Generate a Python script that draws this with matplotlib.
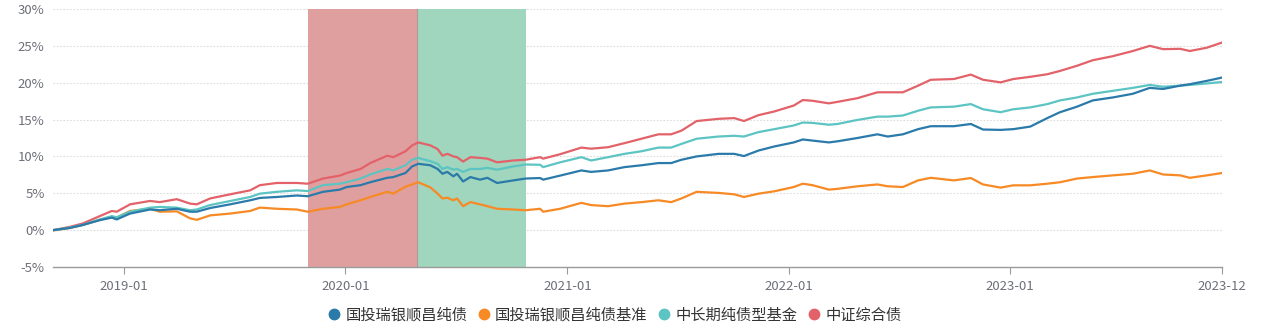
import matplotlib
matplotlib.use("Agg")
import matplotlib.pyplot as plt
from matplotlib.lines import Line2D
import pandas as pd

plt.rcParams['font.family'] = ['Noto Sans CJK SC', 'DejaVu Sans']

dates = ["2018-09-06", "2018-10-04", "2018-10-25", "2018-11-22", "2018-12-12", "2018-12-20",
         "2019-01-11", "2019-02-13", "2019-03-01", "2019-03-29", "2019-04-20", "2019-05-01",
         "2019-05-23", "2019-06-25", "2019-07-28", "2019-08-13", "2019-09-10", "2019-10-13",
         "2019-10-31", "2019-11-25", "2019-12-23", "2020-01-03", "2020-01-26", "2020-02-11",
         "2020-03-10", "2020-03-20", "2020-04-09", "2020-04-20", "2020-04-30", "2020-05-20",
         "2020-06-01", "2020-06-09", "2020-06-17", "2020-06-27", "2020-07-03", "2020-07-13",
         "2020-07-25", "2020-08-10", "2020-08-22", "2020-09-07", "2020-10-04", "2020-10-24",
         "2020-11-17", "2020-11-22", "2020-12-20", "2021-01-24", "2021-02-09", "2021-03-09",
         "2021-04-05", "2021-05-03", "2021-05-31", "2021-06-21", "2021-07-08", "2021-08-02",
         "2021-09-07", "2021-10-03", "2021-10-19", "2021-11-12", "2021-12-08", "2022-01-09",
         "2022-01-24", "2022-02-09", "2022-03-08", "2022-03-22", "2022-04-24", "2022-05-27",
         "2022-06-13", "2022-07-08", "2022-08-02", "2022-08-23", "2022-09-30", "2022-10-28",
         "2022-11-17", "2022-12-16", "2023-01-06", "2023-02-03", "2023-03-03", "2023-03-24",
         "2023-04-21", "2023-05-17", "2023-06-19", "2023-07-22", "2023-08-19", "2023-09-10",
         "2023-10-08", "2023-10-24", "2023-11-21", "2023-12-16"]

fund = [0.0, 0.3, 0.7, 1.35, 1.7, 1.45,
        2.25, 2.8, 2.7, 2.9, 2.5, 2.5,
        3.0, 3.5, 4.05, 4.37, 4.5, 4.7,
        4.6, 5.2, 5.5, 5.85, 6.1, 6.5,
        7.1, 7.2, 7.75, 8.65, 9.0, 8.8,
        8.3, 7.65, 7.9, 7.3, 7.65, 6.6,
        7.2, 6.85, 7.1, 6.4, 6.75, 7.0,
        7.07, 6.85, 7.4, 8.1, 7.9, 8.1,
        8.55, 8.8, 9.1, 9.1, 9.55, 10.0,
        10.35, 10.35, 10.05, 10.8, 11.35, 11.9,
        12.3, 12.15, 11.9, 12.05, 12.5, 13.0,
        12.7, 13.0, 13.7, 14.1, 14.1, 14.4,
        13.65, 13.6, 13.7, 14.05, 15.2, 16.0,
        16.75, 17.6, 18.0, 18.5, 19.3, 19.15,
        19.6, 19.8, 20.25, 20.7]

bench = [-0.05, 0.3, 0.7, 1.4, 1.8, 1.7,
         2.6, 2.9, 2.5, 2.55, 1.6, 1.4,
         2.0, 2.25, 2.6, 3.06, 2.9, 2.8,
         2.5, 2.9, 3.15, 3.5, 4.05, 4.5,
         5.2, 4.95, 5.9, 6.2, 6.5, 5.8,
         4.95, 4.3, 4.4, 4.05, 4.3, 3.25,
         3.8, 3.5, 3.25, 2.9, 2.8, 2.7,
         2.9, 2.5, 2.9, 3.7, 3.4, 3.25,
         3.6, 3.8, 4.05, 3.8, 4.3, 5.2,
         5.05, 4.86, 4.5, 4.95, 5.27, 5.85,
         6.3, 6.1, 5.5, 5.6, 5.95, 6.2,
         5.95, 5.85, 6.75, 7.1, 6.75, 7.07,
         6.2, 5.77, 6.08, 6.08, 6.3, 6.5,
         7.0, 7.2, 7.43, 7.65, 8.1, 7.55,
         7.43, 7.1, 7.43, 7.75]

peer = [0.0, 0.35, 0.7, 1.45, 1.9, 1.75,
        2.5, 3.05, 3.15, 3.05, 2.7, 2.8,
        3.4, 3.95, 4.5, 4.95, 5.2, 5.4,
        5.3, 6.1, 6.3, 6.5, 7.0, 7.55,
        8.3, 8.1, 8.8, 9.55, 9.8, 9.35,
        9.0, 8.3, 8.55, 8.2, 8.3, 7.9,
        8.3, 8.3, 8.45, 8.2, 8.65, 8.9,
        8.87, 8.55, 9.2, 9.9, 9.45, 9.9,
        10.35, 10.7, 11.2, 11.2, 11.7, 12.4,
        12.7, 12.8, 12.7, 13.3, 13.7, 14.2,
        14.6, 14.55, 14.3, 14.4, 14.95, 15.4,
        15.4, 15.55, 16.2, 16.65, 16.75, 17.1,
        16.4, 16.0, 16.4, 16.65, 17.1, 17.6,
        18.0, 18.5, 18.9, 19.3, 19.7, 19.45,
        19.6, 19.7, 19.9, 20.1]

index_ = [0.0, 0.45, 0.9, 1.9, 2.6, 2.5,
          3.5, 3.96, 3.8, 4.2, 3.6, 3.5,
          4.3, 4.86, 5.4, 6.1, 6.4, 6.4,
          6.3, 7.0, 7.4, 7.75, 8.3, 9.1,
          10.1, 9.9, 10.7, 11.5, 11.9, 11.5,
          11.0, 10.1, 10.35, 10.0, 9.9, 9.3,
          9.9, 9.8, 9.7, 9.2, 9.45, 9.55,
          9.9, 9.7, 10.3, 11.2, 11.05, 11.25,
          11.8, 12.4, 13.0, 13.0, 13.5, 14.8,
          15.1, 15.2, 14.8, 15.6, 16.1, 16.9,
          17.65, 17.55, 17.2, 17.4, 17.9, 18.7,
          18.7, 18.7, 19.6, 20.4, 20.5, 21.1,
          20.4, 20.05, 20.5, 20.8, 21.15, 21.6,
          22.3, 23.05, 23.6, 24.3, 25.0, 24.55,
          24.6, 24.3, 24.75, 25.45]

series_names = ["国投瑞银顺昌纯债", "国投瑞银顺昌纯债基准", "中长期纯债型基金", "中证综合债"]
series_colors = ["#2a7aaa", "#f78a25", "#5cc4c2", "#e3626a"]

spans = [("2019-10-31", "2020-04-28", "#e09f9f"), ("2020-04-28", "2020-10-25", "#9fd6bd")]

tick_dates = ["2019-01-01", "2020-01-01", "2021-01-01", "2022-01-01", "2023-01-01", "2023-12-16"]
tick_labels = ["2019-01", "2020-01", "2021-01", "2022-01", "2023-01", "2023-12"]
y_ticks = [-5, 0, 5, 10, 15, 20, 25, 30]

x = pd.to_datetime(dates)

fig = plt.figure(figsize=(12.8, 3.29), dpi=100)
ax = fig.add_axes([53/1280, 1-267/329, (1222-53)/1280, (267-9)/329])

for s, e, c in spans:
    ax.axvspan(pd.Timestamp(s), pd.Timestamp(e), color=c, lw=0, zorder=1)
ax.axvline(pd.Timestamp(spans[0][1]), color="#b09a9a", lw=0.8, zorder=1.5)

for vals, c, z in [(bench, series_colors[1], 3), (fund, series_colors[0], 4),
                   (peer, series_colors[2], 3.5), (index_, series_colors[3], 3.2)]:
    ax.plot(x, vals, color=c, lw=1.6, zorder=z, solid_joinstyle="round")

ax.set_xlim(pd.Timestamp(dates[0]), pd.Timestamp(dates[-1]))
ax.set_ylim(-5, 30)
ax.set_yticks(y_ticks)
ax.set_yticklabels([f"{v}%" for v in y_ticks])
for v in y_ticks[1:]:
    ax.axhline(v, color="#dcdcdc", lw=0.8, ls=(0, (1.5, 1.5)), zorder=0.5)

ax.set_xticks(pd.to_datetime(tick_dates))
ax.set_xticklabels(tick_labels)

for side in ["top", "right", "left"]:
    ax.spines[side].set_visible(False)
ax.spines["bottom"].set_color("#9a9a9a")
ax.spines["bottom"].set_linewidth(1.0)
ax.tick_params(axis="y", length=0, labelsize=9.5, labelcolor="#6e7079", pad=6)
ax.tick_params(axis="x", length=5, color="#9a9a9a", labelsize=9.5, labelcolor="#6e7079", pad=4)

handles = [Line2D([0], [0], marker="o", ls="none", markersize=7.5, color=c) for c in series_colors]
fig.legend(handles, series_names, loc="center", bbox_to_anchor=(615/1280, 1-315/329), ncol=4,
           frameon=False, fontsize=11, handletextpad=0.41, columnspacing=0.72,
           labelcolor="#333333", handlelength=0.7, borderpad=0.2)

fig.savefig("out.png", dpi=100)
